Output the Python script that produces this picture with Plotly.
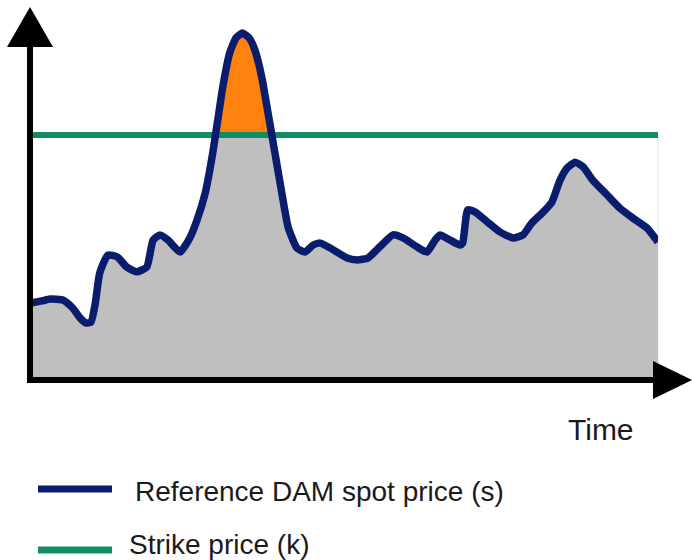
import plotly.graph_objects as go

# ---- data (arbitrary time / price units) ----
TIME = [0, 1.9, 3.2, 5.3, 6.8, 8.0, 8.9, 9.7, 10.4, 11.1, 12.4, 13.9, 15.4, 17.0, 18.6,
        19.6, 20.7, 22.0, 23.9, 25.5, 26.6, 27.9, 29.1, 29.9, 30.7, 31.8, 32.8, 33.8,
        34.9, 35.8, 36.9, 37.9, 39.0, 40.1, 41.1, 42.5, 43.8, 45.1, 46.2, 47.8, 50.5,
        52.1, 53.8, 55.7, 57.8, 59.4, 61.6, 63.2, 64.5, 65.3, 66.9, 68.5, 68.9, 69.7,
        70.9, 72.8, 74.8, 76.9, 78.5, 79.9, 81.7, 83.1, 84.4, 85.5, 86.8, 88.1, 89.6,
        91.9, 93.9, 96.0, 98.2, 100]
SPOT_PRICE = [20.6, 21.2, 21.7, 21.4, 19.3, 16.6, 15.3, 15.5, 20.6, 28.7, 33.5, 33.0,
              30.3, 29.0, 30.3, 37.5, 38.9, 37.5, 34.3, 38.3, 42.9, 50.1, 60.9, 69.7,
              78.6, 87.7, 91.7, 93.0, 91.7, 88.5, 81.2, 71.6, 60.9, 50.1, 41.0, 35.4,
              34.3, 36.2, 36.7, 35.4, 32.7, 32.2, 32.7, 35.7, 38.9, 38.1, 35.7, 34.3,
              37.5, 38.9, 37.5, 36.2, 36.7, 45.6, 45.0, 42.4, 39.7, 38.1, 38.9, 42.1,
              45.0, 47.7, 53.6, 56.8, 58.4, 57.1, 53.6, 49.6, 46.1, 43.4, 40.8, 37.0]
STRIKE = 65.7
X_LABEL = "Time"
SPOT_NAME = "Reference DAM spot price (s)"
STRIKE_NAME = "Strike price (k)"

BLUE = "#0a1c6c"
GREEN = "#138c66"
ORANGE = "#ff820e"
GRAY = "#bfbfbf"
FONT = "Liberation Sans, Arial, sans-serif"
SMOOTH = 0.5

# insert strike crossings so the fills split exactly at the strike level
xa, ya = [TIME[0]], [SPOT_PRICE[0]]
for i in range(1, len(TIME)):
    x0, y0, x1, y1 = TIME[i - 1], SPOT_PRICE[i - 1], TIME[i], SPOT_PRICE[i]
    if (y0 - STRIKE) * (y1 - STRIKE) < 0:
        xc = x0 + (STRIKE - y0) * (x1 - x0) / (y1 - y0)
        xa.append(xc)
        ya.append(STRIKE)
    xa.append(x1)
    ya.append(y1)
y_low = [min(v, STRIKE) for v in ya]
y_high = [max(v, STRIKE) for v in ya]

fig = go.Figure()
fig.add_trace(go.Scatter(x=xa, y=y_low, mode="lines",
                         line=dict(width=0, shape="spline", smoothing=SMOOTH),
                         fill="tozeroy", fillcolor=GRAY, showlegend=False, hoverinfo="skip"))
fig.add_trace(go.Scatter(x=xa, y=[STRIKE] * len(xa), mode="lines", line=dict(width=0),
                         showlegend=False, hoverinfo="skip"))
fig.add_trace(go.Scatter(x=xa, y=y_high, mode="lines",
                         line=dict(width=0, shape="spline", smoothing=SMOOTH),
                         fill="tonexty", fillcolor=ORANGE, showlegend=False, hoverinfo="skip"))
fig.add_trace(go.Scatter(x=[TIME[0], TIME[-1]], y=[STRIKE, STRIKE], mode="lines",
                         line=dict(color=GREEN, width=6), name=STRIKE_NAME, showlegend=False))
fig.add_trace(go.Scatter(x=xa, y=ya, mode="lines",
                         line=dict(color=BLUE, width=7.5, shape="spline", smoothing=SMOOTH),
                         name=SPOT_NAME, showlegend=False))

# ---- layout geometry (pixels) ----
W, H = 692, 560
L, R, T, B = 30, 658, 7, 380


def P(px, py):
    return (px - L) / (R - L), (B - py) / (B - T)


def tri(a, b, c):
    pts = [P(*a), P(*b), P(*c)]
    return "M {} {} L {} {} L {} {} Z".format(*[v for p in pts for v in p])


shapes = []
# faint right border of the plot
x1, y1 = P(658, 138)
x2, y2 = P(658, 378)
shapes.append(dict(type="line", xref="paper", yref="paper", x0=x1, y0=y1, x1=x2, y1=y2,
                   line=dict(color="#e3eaf3", width=1), layer="below"))
# y axis with arrow
x1, y1 = P(30, 383)
x2, y2 = P(30, 44)
shapes.append(dict(type="line", xref="paper", yref="paper", x0=x1, y0=y1, x1=x2, y1=y2,
                   line=dict(color="black", width=6)))
shapes.append(dict(type="path", xref="paper", yref="paper", path=tri((7, 47), (53, 47), (30, 7)),
                   fillcolor="black", line=dict(width=0)))
# x axis with arrow
x1, y1 = P(27, 380)
x2, y2 = P(656, 380)
shapes.append(dict(type="line", xref="paper", yref="paper", x0=x1, y0=y1, x1=x2, y1=y2,
                   line=dict(color="black", width=6)))
shapes.append(dict(type="path", xref="paper", yref="paper", path=tri((653, 361), (653, 399), (692, 380)),
                   fillcolor="black", line=dict(width=0)))
# legend samples
for (ly, col) in [(489, BLUE), (550, GREEN)]:
    x1, y1 = P(38, ly)
    x2, y2 = P(112, ly)
    shapes.append(dict(type="line", xref="paper", yref="paper", x0=x1, y0=y1, x1=x2, y1=y2,
                       line=dict(color=col, width=7)))

annotations = []
ax, ay = P(601, 429)
annotations.append(dict(text=X_LABEL, xref="paper", yref="paper", x=ax, y=ay, showarrow=False,
                        xanchor="center", yanchor="middle", font=dict(family=FONT, size=30, color="#1a1a1a")))
ax, ay = P(133, 491)
annotations.append(dict(text=SPOT_NAME, xref="paper", yref="paper", x=ax, y=ay, showarrow=False,
                        xanchor="left", yanchor="middle", font=dict(family=FONT, size=28, color="#1a1a1a")))
ax, ay = P(127, 544)
annotations.append(dict(text=STRIKE_NAME, xref="paper", yref="paper", x=ax, y=ay, showarrow=False,
                        xanchor="left", yanchor="middle", font=dict(family=FONT, size=28, color="#1a1a1a")))

fig.update_layout(
    width=W, height=H,
    margin=dict(l=L, r=W - R, t=T, b=H - B, pad=0),
    paper_bgcolor="white", plot_bgcolor="white",
    xaxis=dict(range=[0, 100], visible=False, fixedrange=True),
    yaxis=dict(range=[0, 100], visible=False, fixedrange=True),
    shapes=shapes, annotations=annotations,
    showlegend=False,
)

fig.write_html("out.html", config=dict(displayModeBar=False),
               post_script="document.body.style.margin='0';document.body.style.overflow='hidden';")
